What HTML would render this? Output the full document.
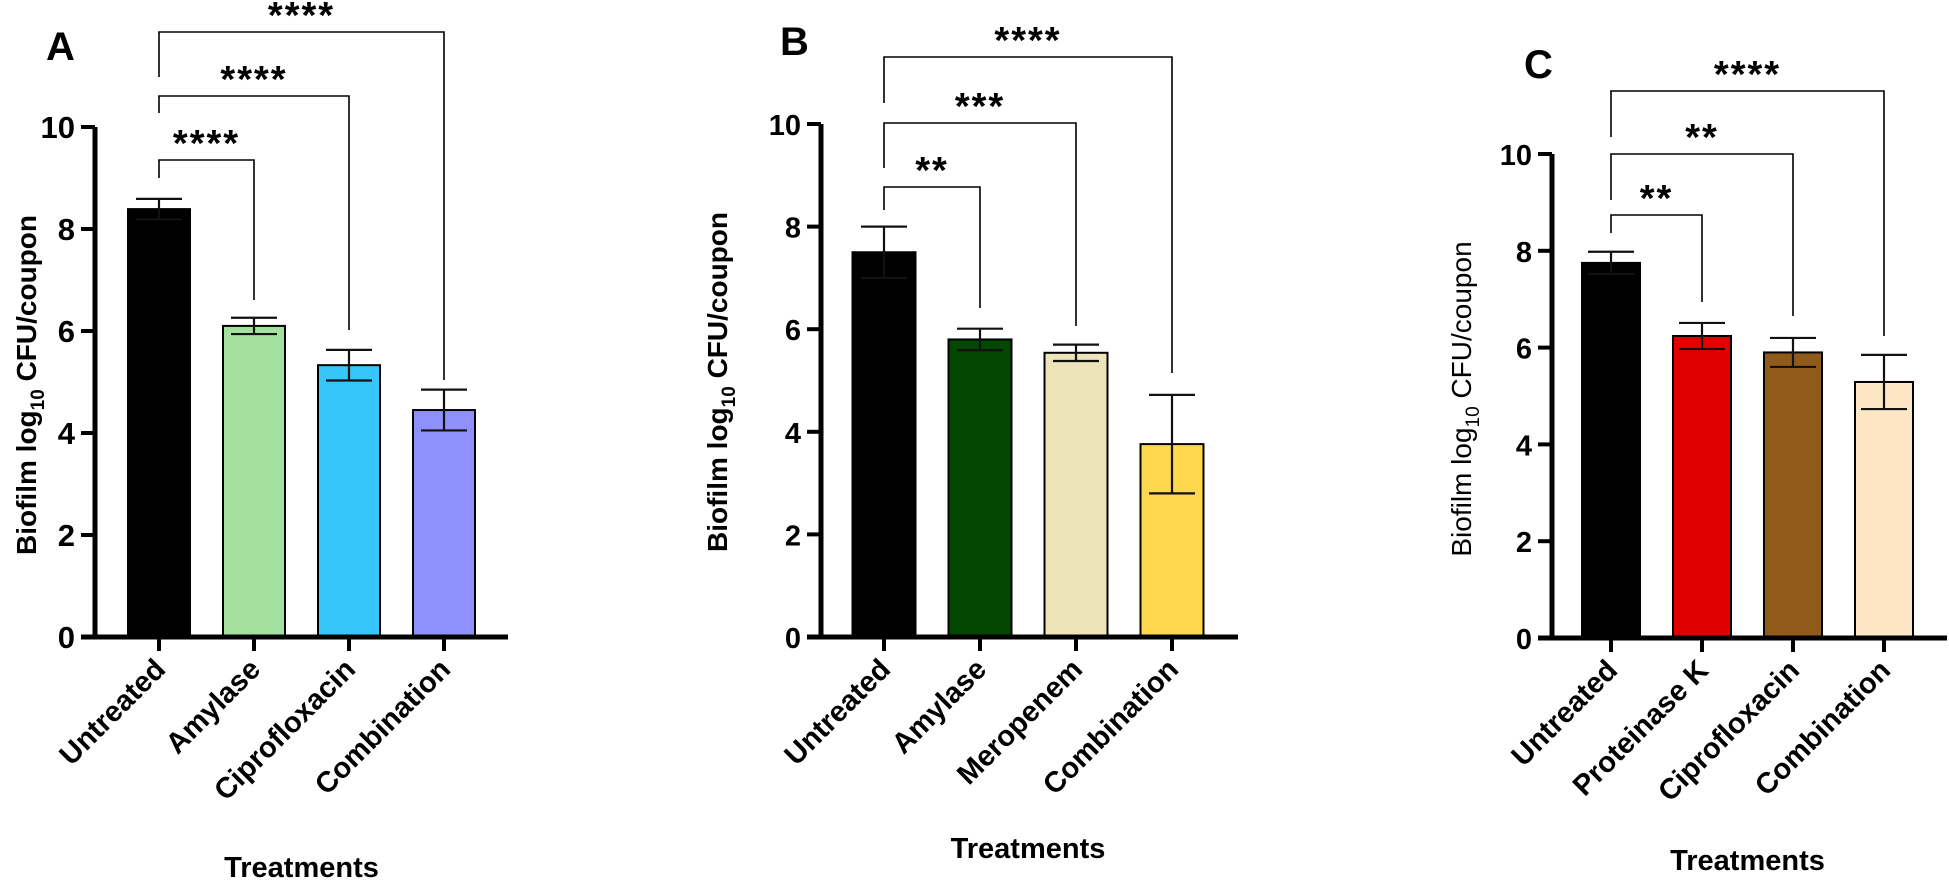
<!DOCTYPE html>
<html><head><meta charset="utf-8"><style>
html,body{margin:0;padding:0;background:#fff;}
svg{display:block;font-family:"Liberation Sans",Arial,sans-serif;}
</style></head><body>
<svg id="fig" width="1949" height="890" viewBox="0 0 1949 890" xmlns="http://www.w3.org/2000/svg"></svg>
<script>
const catsA = ["Untreated","Amylase","Ciprofloxacin","Combination"];
const valsA = [8.39, 6.1, 5.33, 4.45];
const errA = [0.2, 0.16, 0.3, 0.4];
const colsA = ["#000000","#a3df9f","#37c6fc","#9090fc"];
const sigA = ["****","****","****"];

const catsB = ["Untreated","Amylase","Meropenem","Combination"];
const valsB = [7.5, 5.8, 5.54, 3.76];
const errB = [0.5, 0.21, 0.16, 0.96];
const colsB = ["#000000","#034703","#ede4b9","#ffd84f"];
const sigB = ["**","***","****"];

const catsC = ["Untreated","Proteinase K","Ciprofloxacin","Combination"];
const valsC = [7.75, 6.24, 5.9, 5.29];
const errC = [0.23, 0.27, 0.3, 0.56];
const colsC = ["#000000","#e00000","#8f5a1a","#fde6c4"];
const sigC = ["**","**","****"];

const yTicks = [0,2,4,6,8,10];

const NS="http://www.w3.org/2000/svg";
const svg=document.getElementById('fig');
function mk(tag,attrs,parent){const e=document.createElementNS(NS,tag);for(const k in attrs)e.setAttribute(k,attrs[k]);(parent||svg).appendChild(e);return e;}

function panel(p){
  const g=mk('g',{});
  
  
  const y=v=>p.y0-(v/10)*(p.y0-p.y10);
  const x=i=>p.x0+i*p.step;
  const L=mk('text',{x:p.lx,y:p.ly,'font-size':40,'font-weight':'bold'},g);L.textContent=p.letter;
  
  
  p.vals.forEach((v,i)=>{
    const r=mk('rect',{x:x(i)-p.bw/2,y:y(v),width:p.bw,height:p.y0-y(v),fill:p.cols[i],stroke:'#000','stroke-width':2},g);
    
    
    const e=p.errs[i], cw=23;
    const eb=mk('path',{d:`M${x(i)} ${y(v+e)}V${y(v-e)}M${x(i)-cw} ${y(v+e)}H${x(i)+cw}M${x(i)-cw} ${y(v-e)}H${x(i)+cw}`,stroke:'#111','stroke-width':2.2,fill:'none'},g);
    
    
  });
  const ax=mk('path',{d:`M${p.ax} ${p.y10}V${p.y0}M${p.ax-14} ${p.y0}H${p.xend}`,stroke:'#000','stroke-width':5,fill:'none'},g);
  
  
  yTicks.forEach(t=>{
    mk('line',{x1:p.ax-14,x2:p.ax,y1:y(t),y2:y(t),stroke:'#000','stroke-width':4},g);
    const tl=mk('text',{x:p.ax-20,y:y(t)+11,'font-size':p.tfs,'font-weight':'bold','text-anchor':'end'},g);tl.textContent=t;
    
    
  });
  p.cats.forEach((c,i)=>{
    mk('line',{x1:x(i),x2:x(i),y1:p.y0,y2:p.y0+14,stroke:'#000','stroke-width':4},g);
    const t=mk('text',{x:0,y:0,'font-size':29,'font-weight':'bold','text-anchor':'end',transform:`translate(${x(i)+8},${p.y0+34}) rotate(-45)`},g);t.textContent=c;
    
    
  });
  const yt=mk('text',{x:0,y:0,'font-size':28,'font-weight':p.ybold?'bold':'normal','text-anchor':'middle',transform:`translate(${p.ytx},${p.yty}) rotate(-90)`},g);
  yt.innerHTML='Biofilm log<tspan font-size="19" dy="8">10</tspan><tspan dy="-8"> CFU/coupon</tspan>';
  
  
  const xt=mk('text',{x:(x(0)+x(3))/2,y:p.xty,'font-size':29,'font-weight':'bold','text-anchor':'middle'},g);xt.textContent='Treatments';
  
  
  p.br.forEach((b,k)=>{
    const j=k+1;
    const d=`M${x(0)} ${b[1]}V${b[0]}H${x(j)}V${b[2]}`;
    const br=mk('path',{d,stroke:'#000','stroke-width':1.6,fill:'none'},g);
    
    
    const s=mk('text',{x:(x(0)+x(j))/2,y:b[0]-4,'font-size':38,'font-weight':'bold','text-anchor':'middle','letter-spacing':2},g);s.textContent=p.sig[k];
    
    
  });
}

panel({letter:'A',lx:46,ly:60,cats:catsA,vals:valsA,errs:errA,cols:colsA,sig:sigA,
  y0:637,y10:127,x0:159,step:95,bw:62,ax:95,xend:508,tfs:31,ybold:true,ytx:36,yty:385,xty:877,
  br:[[160,178,300],[96,113,330],[32,77,380]]});
panel({letter:'B',lx:780,ly:55,cats:catsB,vals:valsB,errs:errB,cols:colsB,sig:sigB,
  y0:637,y10:124,x0:884,step:96,bw:63,ax:821,xend:1238,tfs:29,ybold:true,ytx:727,yty:382,xty:858,
  br:[[187,210,308],[123,168,326],[57,103,373]]});
panel({letter:'C',lx:1524,ly:78,cats:catsC,vals:valsC,errs:errC,cols:colsC,sig:sigC,
  y0:638,y10:154,x0:1611,step:91,bw:58,ax:1552,xend:1947,tfs:29,ybold:false,ytx:1471,yty:399,xty:870,
  br:[[215,233,302],[154,200,316],[91,137,336]]});
</script>
</body></html>
